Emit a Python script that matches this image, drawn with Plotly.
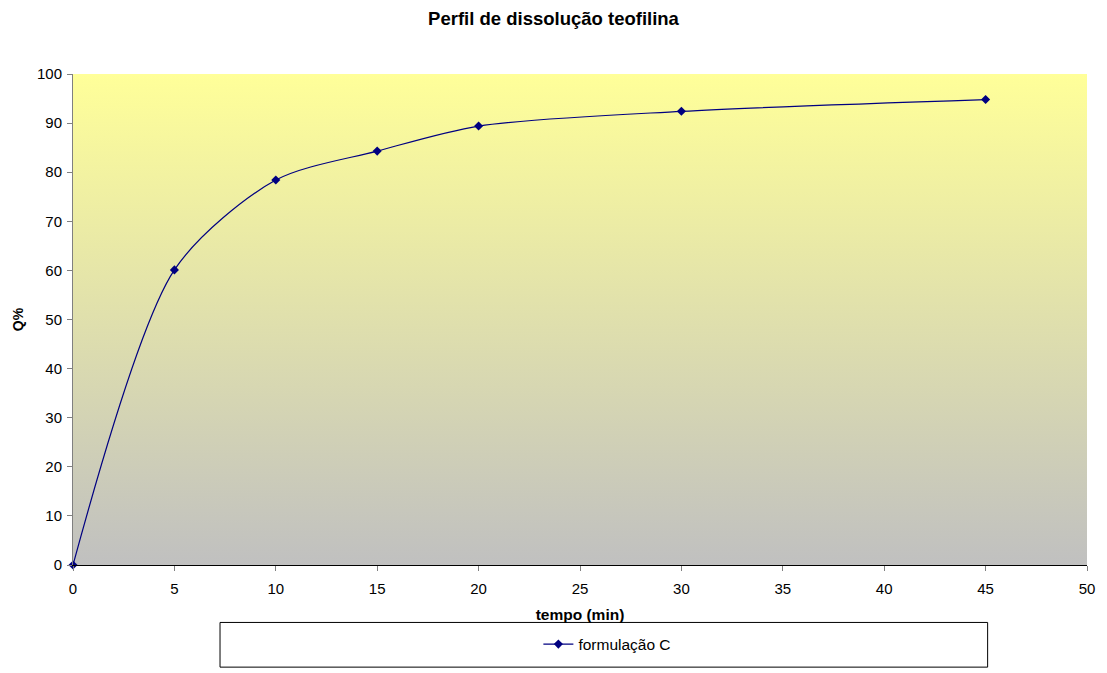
import plotly.graph_objects as go

# Dissolution profile data
tempo_min = [0, 5, 10, 15, 20, 30, 45]
q_percent = [0, 60.1, 78.4, 84.3, 89.4, 92.4, 94.8]

x_ticks = [0, 5, 10, 15, 20, 25, 30, 35, 40, 45, 50]
y_ticks = [0, 10, 20, 30, 40, 50, 60, 70, 80, 90, 100]

font_family = "Liberation Sans, Arial, sans-serif"

fig = go.Figure()

# Plot-area background: gray at the bottom fading to pale yellow at the top
fig.add_trace(go.Scatter(
    x=[0, 50, 50, 0, 0], y=[0, 0, 100, 100, 0],
    fill="toself", mode="none",
    fillgradient=dict(type="vertical",
                      colorscale=[[0, "#C0C0C0"], [1, "#FFFF99"]]),
    hoverinfo="skip", showlegend=False,
))

fig.add_trace(go.Scatter(
    x=tempo_min, y=q_percent,
    mode="lines+markers",
    name="formulação C",
    line=dict(color="#000080", width=1.2, shape="spline", smoothing=0.8),
    marker=dict(symbol="diamond", size=7, color="#000080"),
    cliponaxis=False,
))

# Legend frame
fig.add_shape(type="rect", xref="paper", yref="paper",
              x0=0.145, x1=0.902, y0=-0.208, y1=-0.117,
              line=dict(color="#000000", width=1), fillcolor="white", layer="below")

fig.update_layout(
    width=1107, height=673,
    margin=dict(l=73, r=13, t=74, b=104),
    paper_bgcolor="white",
    plot_bgcolor="white",
    font=dict(family=font_family, size=15, color="#000000"),
    title=dict(text="<b>Perfil de dissolução teofilina</b>",
               x=0.5, xanchor="center", y=0.973, yanchor="middle",
               font=dict(size=18.5)),
    showlegend=True,
    legend=dict(x=0.527, y=-0.162, xanchor="center", yanchor="middle",
                bgcolor="rgba(0,0,0,0)", borderwidth=0,
                font=dict(size=15.5)),
    xaxis=dict(
        range=[0, 50], tickvals=x_ticks, ticktext=[str(v) for v in x_ticks],
        showgrid=False, zeroline=False,
        showline=True, linecolor="#000000", linewidth=1,
        ticks="outside", ticklen=5, tickcolor="#808080",
        tickfont=dict(size=15), ticklabelstandoff=5,
        title=dict(text="<b>tempo (min)</b>", font=dict(size=15.5), standoff=13),
    ),
    yaxis=dict(
        range=[0, 100], tickvals=y_ticks, ticktext=[str(v) for v in y_ticks],
        showgrid=False, zeroline=False,
        showline=True, linecolor="#808080", linewidth=1,
        ticks="outside", ticklen=5, tickcolor="#808080",
        tickfont=dict(size=15), ticklabelstandoff=2,
        title=dict(text="<b>Q%</b>", font=dict(size=14), standoff=10),
    ),
)

fig.write_html("out.html")
